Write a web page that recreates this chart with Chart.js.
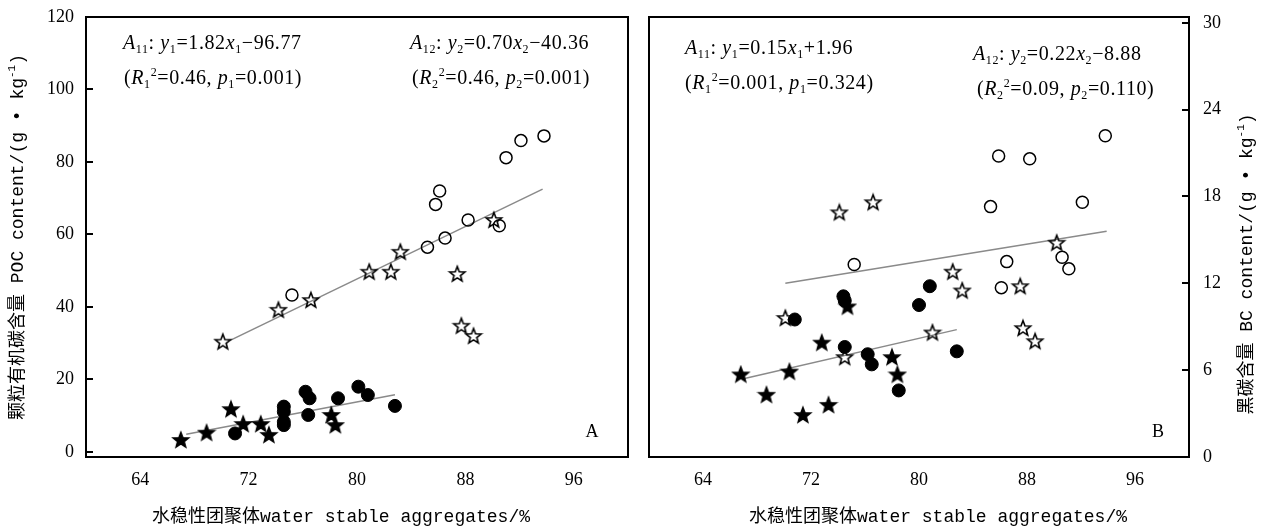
<!DOCTYPE html>
<html>
<head>
<meta charset="utf-8">
<script src="https://cdn.jsdelivr.net/npm/chart.js@4.4.1/dist/chart.umd.min.js"></script>
<style>
  body { margin: 0; background: #fff; }
  #wrap { position: relative; width: 1264px; height: 528px; }
  canvas { position: absolute; top: 0; }
  #left { left: 0; }
  #right { left: 640px; }
</style>
</head>
<body>
<div id="wrap">
  <canvas id="left" width="640" height="528"></canvas>
  <canvas id="right" width="624" height="528"></canvas>
</div>
<script>
// x axis shared by both panels
var xTicks = [64, 72, 80, 88, 96];
var pocTicks = [0, 20, 40, 60, 80, 100, 120];
var bcTicks = [0, 6, 12, 18, 24, 30];

// Panel A - POC content
var pocHollowCircleX = [75.2, 85.2, 86.5, 85.8, 86.1, 88.2, 90.5, 91.0, 92.1, 93.8];
var pocHollowCircleY = [43.3, 56.5, 59.0, 68.3, 72.0, 64.0, 62.4, 81.2, 85.9, 87.2];
var pocHollowStarX = [70.1, 74.2, 76.6, 80.9, 82.5, 83.2, 90.1, 87.4, 87.7, 88.6];
var pocHollowStarY = [30.4, 39.2, 41.9, 49.7, 49.7, 55.2, 64.0, 49.1, 34.8, 32.0];
var pocSolidCircleX = [71.0, 74.6, 74.6, 74.6, 74.6, 76.2, 76.5, 76.4, 78.6, 80.1, 80.8, 82.8];
var pocSolidCircleY = [5.1, 12.5, 11.1, 8.3, 7.4, 16.6, 14.8, 10.2, 14.8, 18.0, 15.7, 12.7];
var pocSolidStarX = [67.0, 68.9, 70.7, 71.6, 72.9, 73.5, 78.1, 78.4];
var pocSolidStarY = [3.3, 5.3, 11.8, 7.7, 7.7, 4.7, 10.2, 7.4];
var pocFitUpperX = [70.6, 93.7];
var pocFitUpperY = [30.7, 72.5];
var pocFitLowerX = [67.4, 82.8];
var pocFitLowerY = [4.9, 15.8];

// Panel B - BC content
var bcHollowCircleX = [85.9, 88.2, 93.8, 85.3, 92.1, 75.2, 86.5, 90.6, 91.1, 86.1];
var bcHollowCircleY = [20.8, 20.6, 22.2, 17.3, 17.6, 13.3, 13.5, 13.8, 13.0, 11.7];
var bcHollowStarX = [74.1, 76.6, 90.2, 82.5, 83.2, 87.5, 70.1, 81.0, 87.7, 88.6, 74.5];
var bcHollowStarY = [16.9, 17.6, 14.8, 12.8, 11.5, 11.8, 9.6, 8.6, 8.9, 8.0, 6.9];
var bcSolidCircleX = [70.8, 74.4, 74.5, 80.8, 80.0, 74.5, 76.2, 76.5, 82.8, 78.5];
var bcSolidCircleY = [9.5, 11.1, 10.8, 11.8, 10.5, 7.6, 7.1, 6.4, 7.3, 4.6];
var bcSolidStarX = [74.7, 72.8, 66.8, 70.4, 68.7, 71.4, 73.3, 78.0, 78.4];
var bcSolidStarY = [10.4, 7.9, 5.7, 5.9, 4.3, 2.9, 3.6, 6.9, 5.7];
var bcFitUpperX = [70.1, 93.9];
var bcFitUpperY = [12.0, 15.6];
var bcFitLowerX = [67.0, 82.8];
var bcFitLowerY = [5.4, 8.8];

var tickFont = { family: '"Liberation Serif", serif', size: 18 };
var monoFont = '"Liberation Mono", "Noto Sans CJK SC", monospace';

function pts(xs, ys) {
  return xs.map(function (x, i) { return { x: x, y: ys[i] }; });
}

// five pointed star marker, drawn once into a small canvas
function makeStar(filled) {
  var c = document.createElement('canvas');
  c.width = 20; c.height = 20;
  var g = c.getContext('2d');
  g.beginPath();
  for (var i = 0; i < 10; i++) {
    var r = i % 2 ? 3.4 : 8;
    var a = -Math.PI / 2 + i * Math.PI / 5;
    g.lineTo(10 + r * Math.cos(a), 10.5 + r * Math.sin(a));
  }
  g.closePath();
  if (filled) { g.fillStyle = '#000'; g.fill(); }
  g.lineWidth = 1.6;
  g.strokeStyle = '#000';
  g.stroke();
  return c;
}
var openStar = makeStar(false);
var solidStar = makeStar(true);

function buildSets(hcX, hcY, hsX, hsY, scX, scY, ssX, ssY, fuX, fuY, flX, flY) {
  var fit = { showLine: true, borderColor: '#8a8a8a', borderWidth: 1.5, pointRadius: 0, order: 10 };
  return [
    { data: pts(hcX, hcY), pointStyle: 'circle', pointRadius: 6, borderWidth: 1.5, borderColor: '#000', backgroundColor: 'rgba(0,0,0,0)' },
    { data: pts(hsX, hsY), pointStyle: openStar, pointRadius: 8 },
    { data: pts(scX, scY), pointStyle: 'circle', pointRadius: 6.5, borderWidth: 1, borderColor: '#000', backgroundColor: '#000' },
    { data: pts(ssX, ssY), pointStyle: solidStar, pointRadius: 8 },
    Object.assign({ data: pts(fuX, fuY) }, fit),
    Object.assign({ data: pts(flX, flY) }, fit)
  ];
}

// draw text made of pieces: '' normal, 'i' italic, 'b' subscript, 'p' superscript
function drawRich(ctx, x, y, parts, size, family) {
  ctx.textBaseline = 'alphabetic';
  ctx.textAlign = 'left';
  parts.forEach(function (p) {
    var k = p[1];
    var small = k === 'b' || k === 'p';
    var fs = small ? Math.round(size * 0.62) : size;
    ctx.font = (k === 'i' ? 'italic ' : '') + fs + 'px ' + family;
    var dy = k === 'b' ? size * 0.22 : (k === 'p' ? -size * 0.42 : 0);
    ctx.fillText(p[0], x, y + dy);
    x += ctx.measureText(p[0]).width;
  });
  return x;
}

function richWidth(ctx, parts, size, family) {
  var w = 0;
  parts.forEach(function (p) {
    var small = p[1] === 'b' || p[1] === 'p';
    ctx.font = (p[1] === 'i' ? 'italic ' : '') + (small ? Math.round(size * 0.62) : size) + 'px ' + family;
    w += ctx.measureText(p[0]).width;
  });
  return w;
}

function panelPlugin(cfg) {
  return {
    id: 'panel',
    afterDraw: function (chart) {
      var ctx = chart.ctx;
      var a = chart.chartArea;
      var ys = chart.scales.y;
      ctx.save();
      ctx.strokeStyle = '#000';
      ctx.lineWidth = 2;
      ctx.strokeRect(a.left, a.top, a.right - a.left, a.bottom - a.top);
      // inward tick marks on the value axis
      cfg.yTicks.forEach(function (v) {
        var py = Math.round(ys.getPixelForValue(v));
        ctx.beginPath();
        if (cfg.side === 'left') { ctx.moveTo(a.left, py); ctx.lineTo(a.left + 7, py); }
        else { ctx.moveTo(a.right, py); ctx.lineTo(a.right - 7, py); }
        ctx.stroke();
      });
      ctx.fillStyle = '#000';
      var ef = '"Liberation Serif", serif';
      ctx.letterSpacing = '0.6px';
      cfg.eqs.forEach(function (e) { drawRich(ctx, e.x, e.y, e.parts, 20, ef); });
      ctx.letterSpacing = '0px';

      ctx.font = '18px "Liberation Serif", serif';
      ctx.textAlign = 'center';
      ctx.textBaseline = 'middle';
      ctx.fillText(cfg.tag, cfg.tagX, 432);

      ctx.font = '18px ' + monoFont;
      ctx.fillText('水稳性团聚体water stable aggregates/%', cfg.xTitleX, 517);

      // rotated value axis title
      var w = richWidth(ctx, cfg.yTitle, 18, monoFont);
      ctx.translate(cfg.yTitleX, cfg.yTitleY);
      ctx.rotate(-Math.PI / 2);
      drawRich(ctx, -w / 2, 6, cfg.yTitle, 18, monoFont);
      ctx.restore();
    }
  };
}

function makeChart(id, sets, yMin, yMax, yTicks, side, pad, plugin) {
  return new Chart(document.getElementById(id), {
    type: 'scatter',
    data: { datasets: sets },
    options: {
      animation: false,
      responsive: false,
      events: [],
      layout: { padding: pad },
      plugins: { legend: { display: false }, tooltip: { enabled: false } },
      scales: {
        x: {
          type: 'linear', min: 60, max: 100,
          afterBuildTicks: function (s) { s.ticks = xTicks.map(function (v) { return { value: v }; }); },
          afterFit: function (s) { s.height = 71; s.paddingLeft = 0; s.paddingRight = 0; },
          grid: { display: false, drawTicks: false },
          border: { display: false },
          ticks: { padding: 12, color: '#000', font: tickFont }
        },
        y: {
          type: 'linear', position: side, min: yMin, max: yMax,
          afterBuildTicks: function (s) { s.ticks = yTicks.map(function (v) { return { value: v }; }); },
          afterFit: function (s) {
            s.width = side === 'left' ? 86 : 75;
            s.paddingTop = 0;
            s.paddingBottom = 0;
          },
          grid: { display: false, drawTicks: false },
          border: { display: false },
          ticks: { padding: side === 'left' ? 12 : 14, color: '#000', font: tickFont }
        }
      }
    },
    plugins: [plugin]
  });
}

makeChart('left',
  buildSets(pocHollowCircleX, pocHollowCircleY, pocHollowStarX, pocHollowStarY,
            pocSolidCircleX, pocSolidCircleY, pocSolidStarX, pocSolidStarY,
            pocFitUpperX, pocFitUpperY, pocFitLowerX, pocFitLowerY),
  -1.4, 120, pocTicks, 'left', { top: 17, right: 12, left: 0, bottom: 0 },
  panelPlugin({
    side: 'left', yTicks: pocTicks, tag: 'A', tagX: 592, xTitleX: 341,
    yTitleX: 17, yTitleY: 237,
    yTitle: [['颗粒有机碳含量 POC content/(g • kg', ''], ['-1', 'p'], [')', '']],
    eqs: [
      { x: 123, y: 49, parts: [['A', 'i'], ['11', 'b'], [': ', ''], ['y', 'i'], ['1', 'b'], ['=1.82', ''], ['x', 'i'], ['1', 'b'], ['−96.77', '']] },
      { x: 124, y: 84, parts: [['(', ''], ['R', 'i'], ['1', 'b'], ['2', 'p'], ['=0.46, ', ''], ['p', 'i'], ['1', 'b'], ['=0.001)', '']] },
      { x: 410, y: 49, parts: [['A', 'i'], ['12', 'b'], [': ', ''], ['y', 'i'], ['2', 'b'], ['=0.70', ''], ['x', 'i'], ['2', 'b'], ['−40.36', '']] },
      { x: 412, y: 84, parts: [['(', ''], ['R', 'i'], ['2', 'b'], ['2', 'p'], ['=0.46, ', ''], ['p', 'i'], ['2', 'b'], ['=0.001)', '']] }
    ]
  }));

makeChart('right',
  buildSets(bcHollowCircleX, bcHollowCircleY, bcHollowStarX, bcHollowStarY,
            bcSolidCircleX, bcSolidCircleY, bcSolidStarX, bcSolidStarY,
            bcFitUpperX, bcFitUpperY, bcFitLowerX, bcFitLowerY),
  0, 30.4, bcTicks, 'right', { top: 17, right: 0, left: 7, bottom: 0 },
  panelPlugin({
    side: 'right', yTicks: bcTicks, tag: 'B', tagX: 518, xTitleX: 298,
    yTitleX: 606, yTitleY: 264,
    yTitle: [['黑碳含量 BC content/(g • kg', ''], ['-1', 'p'], [')', '']],
    eqs: [
      { x: 45, y: 54, parts: [['A', 'i'], ['11', 'b'], [': ', ''], ['y', 'i'], ['1', 'b'], ['=0.15', ''], ['x', 'i'], ['1', 'b'], ['+1.96', '']] },
      { x: 45, y: 89, parts: [['(', ''], ['R', 'i'], ['1', 'b'], ['2', 'p'], ['=0.001, ', ''], ['p', 'i'], ['1', 'b'], ['=0.324)', '']] },
      { x: 333, y: 60, parts: [['A', 'i'], ['12', 'b'], [': ', ''], ['y', 'i'], ['2', 'b'], ['=0.22', ''], ['x', 'i'], ['2', 'b'], ['−8.88', '']] },
      { x: 337, y: 95, parts: [['(', ''], ['R', 'i'], ['2', 'b'], ['2', 'p'], ['=0.09, ', ''], ['p', 'i'], ['2', 'b'], ['=0.110)', '']] }
    ]
  }));
</script>
</body>
</html>
